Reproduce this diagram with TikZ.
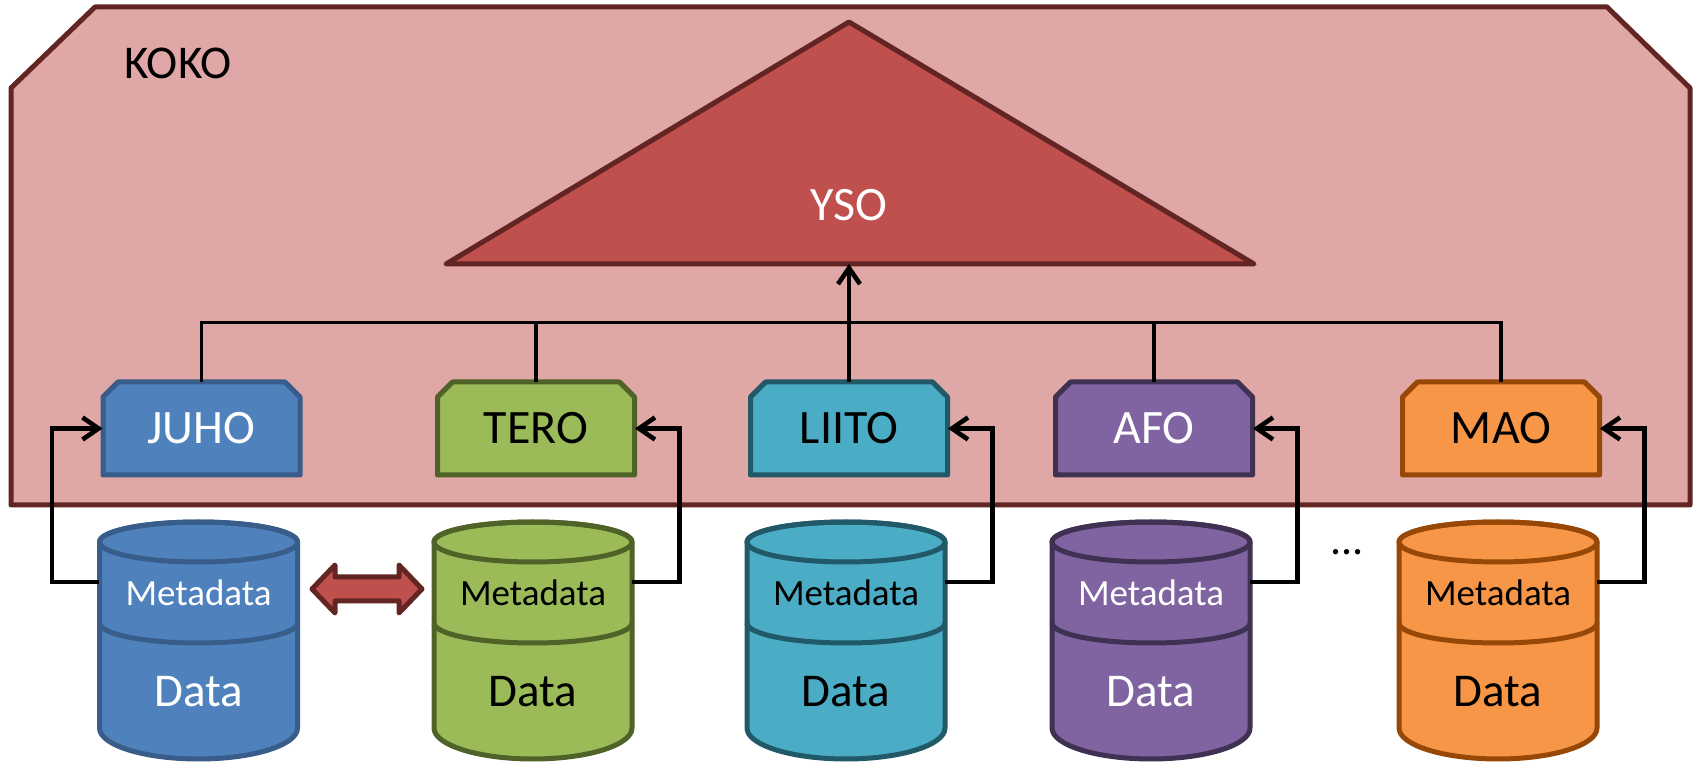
\documentclass[tikz,border=0pt]{standalone}
\usepackage{fontspec}
\setmainfont{Carlito}
\usepackage{tikz}
\usetikzlibrary{calc,arrows.meta,positioning}
\definecolor{kokofill}{HTML}{DFA7A6}
\definecolor{kokodraw}{HTML}{632523}
\definecolor{ysofill}{HTML}{C0504D}
\definecolor{kblue}{HTML}{4F81BD}
\definecolor{kblueD}{HTML}{385D8A}
\definecolor{kgreen}{HTML}{9BBB59}
\definecolor{kgreenD}{HTML}{4F6228}
\definecolor{kaqua}{HTML}{4BACC6}
\definecolor{kaquaD}{HTML}{215968}
\definecolor{kpurple}{HTML}{8064A2}
\definecolor{kpurpleD}{HTML}{3F3151}
\definecolor{korange}{HTML}{F79646}
\definecolor{korangeD}{HTML}{974806}

\begin{document}
\begin{tikzpicture}[x=0.5pt,y=-0.5pt,
    outline/.style={line width=2.5pt,line join=round},
    feed/.style={line width=2.3pt,-{Straight Barb[length=8pt,width=11pt]}},
    bus/.style={line width=1.8pt},
    lab/.style={font=\fontsize{24}{28}\selectfont,inner sep=0pt},
    meta/.style={font=\fontsize{18.5}{22}\selectfont,inner sep=0pt},
    data/.style={font=\fontsize{23.5}{27}\selectfont,inner sep=0pt}]
  \useasboundingbox (0,0) rectangle (1696,763);
  % KOKO frame
  \filldraw[outline,fill=kokofill,draw=kokodraw] (11,88) -- (95,7) -- (1607,7) -- (1690,88) -- (1690,505) -- (11,505) -- cycle;
  \node[lab,font=\fontsize{23.5}{26}\selectfont] (koko) at (178,63) {KOKO};
  % YSO
  \filldraw[outline,fill=ysofill,draw=kokodraw] (849,22) coordinate (ysotop) -- (1254,264) -- (446,264) -- cycle;
  \coordinate (ysobase) at (849,264);
  \node[lab,text=white] (yso) at (849,205) {YSO};
  \foreach \id/\lbl/\cx/\fc/\dc/\tc/\side/\dx in {
      juho/JUHO/201.5/kblue/kblueD/white/west/-47,
      tero/TERO/536/kgreen/kgreenD/black/east/47,
      liito/LIITO/849/kaqua/kaquaD/black/east/47,
      afo/AFO/1154/kpurple/kpurpleD/white/east/47,
      mao/MAO/1501/korange/korangeD/black/east/47}{
    % database
    \filldraw[outline,fill=\fc,draw=\dc] (\cx-102,542) -- (\cx-102,728) arc[start angle=180,end angle=0,x radius=99,y radius=31] -- (\cx+96,542) arc[start angle=0,end angle=-180,x radius=99,y radius=20] -- cycle;
    \draw[outline,draw=\dc] (\cx-3,542) ellipse[x radius=99,y radius=20];
    \draw[outline,draw=\dc] (\cx-102,623) arc[start angle=180,end angle=0,x radius=99,y radius=20];
    \node[meta,text=\tc,minimum width=99pt] (meta\id) at (\cx-3,593) {Metadata};
    \node[data,text=\tc] (data\id) at (\cx-3,692) {Data};
    % vocabulary
    \filldraw[outline,fill=\fc,draw=\dc] (\cx-98.5,475) -- (\cx-98.5,397) -- (\cx-83.5,382) -- (\cx+83.5,382) -- (\cx+98.5,397) -- (\cx+98.5,475) -- cycle;
    \node[lab,text=\tc,minimum width=98.5pt,minimum height=46.5pt] (\id) at (\cx,428.5) {\lbl};
    \draw[feed] ([yshift=5.5pt]meta\id.\side) -- ++(\dx,0) |- (\id.\side);
  }
  % links up to YSO
  \draw[bus] (juho.north) -- ++(0,-59) -| (mao.north);
  \draw[bus] (tero.north) -- ++(0,-59);
  \draw[bus] (afo.north) -- ++(0,-59);
  \draw[feed] (liito.north) -- (ysobase);
  % sync arrow
  \coordinate (syncl) at (312,589);
  \coordinate (syncr) at (422,589);
  \filldraw[outline,fill=ysofill,draw=kokodraw] (syncl) -- ++(23,-24) -- ++(0,12) -- ($(syncr)+(-23,-12)$) -- ++(0,-12) -- (syncr) -- ++(-23,24) -- ++(0,-12) -- ($(syncl)+(23,12)$) -- ++(0,12) -- cycle;
  \node[lab,font=\fontsize{22}{26}\selectfont] (dots) at (1347,552) {...};
\end{tikzpicture}
\end{document}
